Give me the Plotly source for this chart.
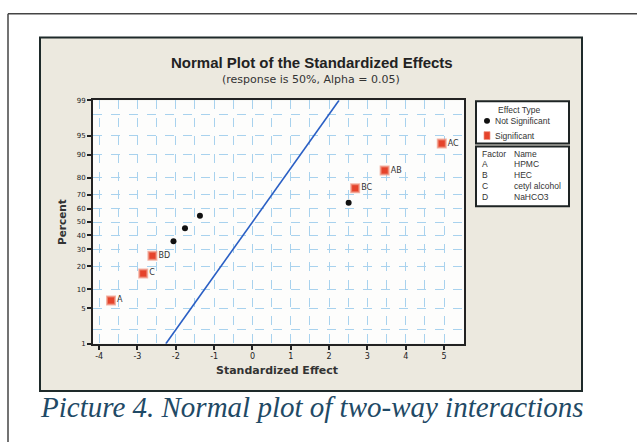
import plotly.graph_objects as go
from statistics import NormalDist

# ---------------- data ----------------
sig_effects = [-3.69, -2.85, -2.61, 2.68, 3.45, 4.94]
sig_percents = [6.7, 16.3, 26.0, 74.0, 83.7, 93.3]
sig_labels = ["A", "C", "BD", "BC", "AB", "AC"]

ns_effects = [-2.06, -1.76, -1.37, 2.51]
ns_percents = [35.6, 45.2, 54.8, 64.4]

ref_effect = [-2.26, 2.26]
ref_percent = [1, 99]

y_tick_percents = [1, 5, 10, 20, 30, 40, 50, 60, 70, 80, 90, 95, 99]
y_minor_percents = [2, 98]
x_tick_values = [-4, -3, -2, -1, 0, 1, 2, 3, 4, 5]

factor_codes = ["A", "B", "C", "D"]
factor_names = ["HPMC", "HEC", "cetyl alcohol", "NaHCO3"]

# ---------------- helpers ----------------
W, H = 637, 446
nd = NormalDist()


def z(p):
    return nd.inv_cdf(p / 100.0)


def fx(px):
    return px / W


def fy(py):
    return 1 - py / H


fig = go.Figure()

fig.add_trace(go.Scatter(
    x=ref_effect, y=[z(p) for p in ref_percent], mode="lines",
    line=dict(color="#2a5fc4", width=1.6), showlegend=False, hoverinfo="skip"))

fig.add_trace(go.Scatter(
    x=ns_effects, y=[z(p) for p in ns_percents], mode="markers",
    marker=dict(symbol="circle", size=6, color="#111111"),
    showlegend=False))

fig.add_trace(go.Scatter(
    x=sig_effects, y=[z(p) for p in sig_percents], mode="markers+text",
    text=sig_labels, textposition="middle right",
    textfont=dict(family="DejaVu Sans", size=8, color="#333333"),
    marker=dict(symbol="square", size=8, color="#e5432b",
                line=dict(color="rgba(240,150,130,0.7)", width=2)),
    showlegend=False))

# ---------------- shapes ----------------
shapes = []
shapes.append(dict(type="line", xref="paper", yref="paper",
                   x0=fx(8), x1=fx(637), y0=fy(10), y1=fy(10),
                   line=dict(color="#444444", width=1.5)))
shapes.append(dict(type="line", xref="paper", yref="paper",
                   x0=fx(8), x1=fx(8), y0=fy(10), y1=fy(446),
                   line=dict(color="#444444", width=1.5)))
shapes.append(dict(type="rect", xref="paper", yref="paper", layer="below",
                   x0=fx(40), x1=fx(582), y0=fy(394), y1=fy(34),
                   fillcolor="#ece9df", line=dict(color="#1e2a2a", width=2)))
shapes.append(dict(type="rect", xref="paper", yref="paper", layer="below",
                   x0=fx(93), x1=fx(464), y0=fy(346), y1=fy(98),
                   fillcolor="#fdfdfc", line=dict(width=0)))
shapes.append(dict(type="rect", xref="paper", yref="paper",
                   x0=fx(476), x1=fx(569), y0=fy(142), y1=fy(99),
                   fillcolor="#ffffff", line=dict(color="#1e2424", width=2),
                   layer="below"))
shapes.append(dict(type="rect", xref="paper", yref="paper",
                   x0=fx(476), x1=fx(569), y0=fy(206), y1=fy(145),
                   fillcolor="#ffffff", line=dict(color="#1e2424", width=2),
                   layer="below"))
shapes.append(dict(type="circle", xref="paper", yref="paper",
                   x0=fx(484), x1=fx(490), y0=fy(122), y1=fy(116),
                   fillcolor="#111111", line=dict(width=0)))
shapes.append(dict(type="rect", xref="paper", yref="paper",
                   x0=fx(484), x1=fx(490), y0=fy(138), y1=fy(130),
                   fillcolor="#e5432b", line=dict(color="rgba(240,150,130,0.7)", width=1)))

# ---------------- annotations ----------------
ann = []


def add_text(text, x, y, size, xanchor="center", family="DejaVu Sans",
             color="#333333", angle=0):
    ann.append(dict(text=text, x=fx(x), y=fy(y), xref="paper", yref="paper",
                    showarrow=False, xanchor=xanchor, yanchor="middle",
                    textangle=angle, borderpad=0,
                    font=dict(family=family, size=size, color=color)))


add_text("<b>Normal Plot of the Standardized Effects</b>", 312, 60, 15,
         family="Liberation Sans", color="#222222")
add_text("(response is 50%, Alpha = 0.05)", 311, 77, 11)
add_text("<b>Percent</b>", 62, 222, 10.5, angle=-90)
add_text("<b>Standardized Effect</b>", 277, 373, 11)
add_text("<i>Picture 4. Normal plot of two-way interactions</i>", 39, 410, 29,
         xanchor="left", family="Liberation Serif", color="#1f4a66")

lf = 8.5
lfam = "Liberation Sans"
add_text("Effect Type", 497, 108, lf, xanchor="left", family=lfam)
add_text("Not Significant", 494, 119, lf, xanchor="left", family=lfam)
add_text("Significant", 494, 134, lf, xanchor="left", family=lfam)
add_text("Factor", 481, 153, lf, xanchor="left", family=lfam)
add_text("Name", 513, 153, lf, xanchor="left", family=lfam)
for i, (c, n) in enumerate(zip(factor_codes, factor_names)):
    yy = 163 + i * 11.3
    add_text(c, 481, yy, lf, xanchor="left", family=lfam)
    add_text(n, 513, yy, lf, xanchor="left", family=lfam)

grid_color = "#a8d2ee"

fig.update_layout(
    width=W, height=H,
    margin=dict(l=0, r=0, t=0, b=0),
    paper_bgcolor="#ffffff",
    plot_bgcolor="rgba(0,0,0,0)",
    shapes=shapes,
    annotations=ann,
    showlegend=False,
    xaxis=dict(
        domain=[fx(93), fx(464)], range=[-4.16, 5.52],
        tickvals=x_tick_values, ticktext=[str(v) for v in x_tick_values],
        ticks="outside", ticklen=4, tickwidth=1.5, tickcolor="#222222",
        tickfont=dict(family="DejaVu Sans", size=8, color="#222222"),
        showgrid=True, gridcolor=grid_color, griddash="dash", gridwidth=1,
        minor=dict(dtick=0.5, tick0=0, showgrid=True, gridcolor=grid_color,
                   griddash="dash", gridwidth=1, ticks=""),
        showline=True, linecolor="#222222", linewidth=2, mirror=True,
        zeroline=False,
    ),
    yaxis=dict(
        domain=[fy(346), fy(98)], range=[z(1), z(99)],
        tickvals=[z(p) for p in y_tick_percents],
        ticktext=[str(p) for p in y_tick_percents],
        ticks="outside", ticklen=4, tickwidth=1.5, tickcolor="#222222",
        tickfont=dict(family="DejaVu Sans", size=7, color="#222222"),
        showgrid=True, gridcolor=grid_color, griddash="dash", gridwidth=1,
        minor=dict(tickvals=[z(p) for p in y_minor_percents], showgrid=True,
                   gridcolor=grid_color, griddash="dash", gridwidth=1, ticks=""),
        showline=True, linecolor="#222222", linewidth=2, mirror=True,
        zeroline=False,
    ),
)

fig.write_html(
    "out.html",
    config={"displayModeBar": False},
    post_script="document.body.style.margin='0';document.body.style.overflow='hidden';",
)
